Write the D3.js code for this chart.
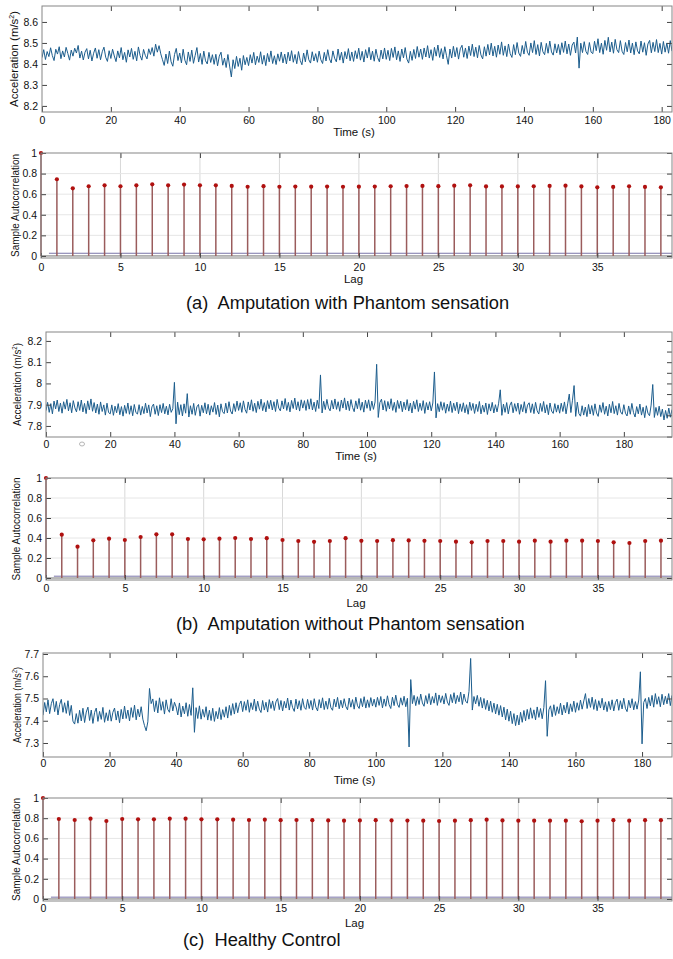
<!DOCTYPE html>
<html>
<head>
<meta charset="utf-8">
<script src="https://cdn.jsdelivr.net/npm/d3@7"></script>
<style>
body { margin: 0; background: #fff; }
svg { display: block; font-family: "Liberation Sans", Arial, sans-serif; }
.tick text { font-size: 10.5px; fill: #111; }
.tick line { stroke: #444; }
</style>
</head>
<body>
<script>
// acceleration samples, one every half second
const sampleStep = 0.5;

const accelA = [
8.430,8.468,8.421,8.459,8.435,8.477,8.440,8.416,8.470,8.447,8.482,8.425,8.462,8.433,8.479,8.450,8.418,8.466,8.437,8.475,
8.452,8.488,8.428,8.461,8.419,8.456,8.473,8.424,8.465,8.414,8.451,8.476,8.427,8.468,8.420,8.458,8.480,8.432,8.412,8.463,
8.426,8.470,8.438,8.411,8.462,8.429,8.478,8.420,8.455,8.408,8.467,8.433,8.474,8.422,8.460,8.415,8.481,8.440,8.418,8.469,
8.441,8.424,8.472,8.445,8.478,8.437,8.494,8.456,8.487,8.448,8.420,8.393,8.447,8.402,8.461,8.410,8.389,8.445,8.474,8.416,
8.452,8.405,8.470,8.418,8.396,8.457,8.412,8.466,8.403,8.441,8.478,8.409,8.450,8.398,8.461,8.415,8.400,8.455,8.407,8.444,
8.398,8.446,8.391,8.437,8.456,8.394,8.428,8.383,8.445,8.390,8.338,8.420,8.378,8.436,8.388,8.427,8.370,8.440,8.396,8.431,
8.392,8.444,8.404,8.455,8.396,8.437,8.407,8.458,8.399,8.441,8.392,8.450,8.410,8.462,8.402,8.439,8.397,8.448,8.413,8.457,
8.405,8.447,8.400,8.456,8.414,8.463,8.408,8.445,8.401,8.459,8.417,8.396,8.452,8.410,8.467,8.420,8.404,8.458,8.414,8.449,
8.408,8.461,8.420,8.402,8.455,8.414,8.468,8.424,8.405,8.462,8.427,8.410,8.471,8.418,8.456,8.404,8.459,8.424,8.473,8.415,
8.457,8.412,8.463,8.425,8.475,8.418,8.460,8.409,8.468,8.428,8.479,8.420,8.461,8.413,8.470,8.430,8.410,8.466,8.424,8.476,
8.422,8.465,8.416,8.474,8.431,8.481,8.420,8.462,8.412,8.471,8.429,8.478,8.423,8.404,8.460,8.417,8.469,8.426,8.483,8.432,
8.471,8.422,8.476,8.433,8.487,8.428,8.468,8.417,8.479,8.437,8.490,8.431,8.473,8.424,8.482,8.439,8.398,8.471,8.428,8.484,
8.434,8.478,8.423,8.472,8.489,8.432,8.476,8.426,8.485,8.440,8.494,8.435,8.480,8.429,8.488,8.443,8.424,8.482,8.437,8.493,
8.443,8.499,8.438,8.484,8.432,8.490,8.446,8.505,8.441,8.486,8.435,8.495,8.449,8.431,8.492,8.444,8.502,8.452,8.436,8.488,
8.447,8.507,8.456,8.441,8.500,8.454,8.511,8.445,8.492,8.438,8.503,8.458,8.444,8.498,8.451,8.509,8.457,8.442,8.496,8.452,
8.493,8.444,8.501,8.455,8.509,8.448,8.495,8.441,8.490,8.504,8.452,8.528,8.380,8.499,8.454,8.506,8.460,8.445,8.502,8.456,
8.449,8.508,8.463,8.520,8.454,8.499,8.446,8.512,8.465,8.527,8.457,8.504,8.451,8.517,8.468,8.454,8.511,8.460,8.445,8.502,
8.458,8.514,8.452,8.499,8.444,8.505,8.462,8.448,8.509,8.456,8.501,8.441,8.495,8.512,8.453,8.503,8.459,8.516,8.454,8.498,
8.447,8.507,8.456,8.500,8.451,8.511,8.461
];

const accelB = [
7.872,7.911,7.864,7.905,7.857,7.917,7.880,7.922,7.868,7.908,7.860,7.914,7.879,7.925,7.871,7.909,7.862,7.919,7.885,7.866,
7.914,7.873,7.922,7.866,7.906,7.858,7.918,7.876,7.927,7.869,7.910,7.861,7.903,7.855,7.913,7.868,7.899,7.851,7.907,7.863,
7.857,7.899,7.850,7.893,7.862,7.905,7.853,7.891,7.846,7.897,7.859,7.908,7.855,7.895,7.848,7.901,7.863,7.856,7.900,7.851,
7.892,7.858,7.907,7.861,7.899,7.844,7.890,7.903,7.855,7.895,7.849,7.900,7.863,7.906,7.857,7.893,7.852,7.902,7.864,7.881,
8.005,7.810,7.912,7.853,7.900,7.847,7.904,7.860,7.952,7.842,7.895,7.855,7.906,7.850,7.890,7.901,7.846,7.897,7.862,7.909,
7.857,7.902,7.851,7.895,7.865,7.910,7.854,7.898,7.843,7.904,7.867,7.858,7.907,7.861,7.914,7.870,7.856,7.905,7.868,7.917,
7.873,7.909,7.864,7.918,7.878,7.860,7.913,7.875,7.923,7.869,7.907,7.863,7.916,7.879,7.926,7.872,7.910,7.866,7.919,7.881,
7.921,7.875,7.914,7.868,7.925,7.884,7.871,7.918,7.880,7.929,7.873,7.911,7.866,7.920,7.882,7.931,7.876,7.914,7.870,7.923,
7.884,7.919,7.873,7.924,7.879,7.928,7.875,7.912,7.868,7.921,7.882,8.040,7.861,7.916,7.877,7.925,7.885,7.871,7.920,7.880,
7.927,7.878,7.914,7.869,7.922,7.884,7.932,7.876,7.917,7.872,7.924,7.887,7.867,7.918,7.881,7.929,7.874,7.912,7.865,7.921,
7.883,7.923,7.872,7.917,7.878,7.913,8.090,7.840,7.910,7.926,7.875,7.919,7.869,7.915,7.880,7.928,7.873,7.911,7.864,7.920,
7.882,7.917,7.867,7.912,7.876,7.924,7.870,7.908,7.861,7.916,7.879,7.923,7.868,7.907,7.873,7.919,7.859,7.910,7.875,7.914,
7.871,7.908,8.054,7.838,7.905,7.867,7.914,7.874,7.910,7.860,7.903,7.869,7.917,7.863,7.907,7.872,7.912,7.858,7.904,7.868,
7.909,7.862,7.900,7.855,7.912,7.873,7.906,7.859,7.902,7.868,7.915,7.857,7.898,7.865,7.908,7.854,7.904,7.870,7.911,7.861,
7.900,7.866,7.907,7.970,7.850,7.903,7.864,7.910,7.857,7.897,7.913,7.862,7.905,7.869,7.908,7.855,7.901,7.867,7.914,7.860,
7.898,7.909,7.863,7.904,7.858,7.911,7.871,7.856,7.906,7.868,7.915,7.861,7.900,7.853,7.908,7.870,7.859,7.905,7.865,7.899,
7.860,7.907,7.868,7.913,7.857,7.904,7.950,7.863,7.921,7.990,7.845,7.912,7.858,7.846,7.895,7.851,7.889,7.844,7.901,7.856,
7.896,7.850,7.904,7.861,7.845,7.899,7.864,7.910,7.855,7.893,7.847,7.902,7.862,7.915,7.858,7.895,7.851,7.906,7.866,7.855,
7.900,7.860,7.847,7.894,7.855,7.906,7.863,7.842,7.891,7.857,7.903,7.851,7.888,7.839,7.895,7.860,7.848,7.898,7.995,7.840,
7.887,7.850,7.893,7.844,7.879,7.828,7.873,7.836,7.884,7.841,7.877
];

const accelC = [
7.425,7.482,7.440,7.494,7.432,7.477,7.499,7.441,7.487,7.426,7.473,7.496,7.438,7.481,7.433,7.490,7.424,7.469,7.398,7.385,
7.432,7.389,7.447,7.399,7.456,7.392,7.439,7.461,7.401,7.448,7.388,7.437,7.457,7.397,7.442,7.406,7.460,7.393,7.436,7.400,
7.449,7.398,7.438,7.457,7.403,7.444,7.391,7.451,7.408,7.466,7.410,7.448,7.399,7.459,7.415,7.470,7.404,7.452,7.417,7.463,
7.407,7.378,7.355,7.395,7.545,7.477,7.498,7.441,7.490,7.435,7.503,7.447,7.486,7.430,7.494,7.451,7.438,7.499,7.444,7.483,
7.462,7.426,7.480,7.417,7.466,7.431,7.481,7.420,7.473,7.424,7.548,7.348,7.459,7.410,7.467,7.407,7.451,7.416,7.463,7.403,
7.447,7.401,7.456,7.397,7.442,7.409,7.459,7.405,7.450,7.416,7.463,7.412,7.469,7.424,7.477,7.430,7.481,7.436,7.473,7.489,
7.441,7.486,7.447,7.494,7.438,7.481,7.450,7.497,7.443,7.488,7.452,7.437,7.491,7.448,7.483,7.439,7.495,7.455,7.489,7.446,
7.485,7.500,7.450,7.491,7.444,7.487,7.457,7.502,7.448,7.493,7.459,7.442,7.497,7.453,7.490,7.447,7.499,7.460,7.451,7.496,
7.455,7.491,7.448,7.499,7.461,7.444,7.495,7.457,7.503,7.450,7.488,7.452,7.501,7.459,7.447,7.497,7.462,7.505,7.454,7.492,
7.458,7.499,7.464,7.449,7.502,7.461,7.495,7.452,7.506,7.467,7.455,7.500,7.463,7.508,7.457,7.494,7.460,7.504,7.466,7.497,
7.461,7.505,7.469,7.509,7.458,7.498,7.465,7.512,7.472,7.455,7.506,7.468,7.515,7.474,7.460,7.503,7.470,7.510,7.463,7.501,
7.282,7.585,7.477,7.514,7.468,7.508,7.473,7.520,7.480,7.465,7.513,7.477,7.522,7.472,7.509,7.479,7.525,7.469,7.516,7.482,
7.512,7.475,7.523,7.484,7.469,7.518,7.481,7.526,7.477,7.514,7.485,7.529,7.473,7.520,7.488,7.479,7.532,7.680,7.448,7.509,
7.476,7.514,7.465,7.505,7.457,7.500,7.451,7.492,7.444,7.488,7.438,7.479,7.431,7.474,7.425,7.468,7.417,7.461,7.404,7.452,
7.398,7.443,7.387,7.432,7.378,7.425,7.381,7.438,7.393,7.446,7.400,7.451,7.407,7.458,7.411,7.449,7.404,7.462,7.415,7.455,
7.409,7.460,7.580,7.330,7.449,7.467,7.418,7.472,7.424,7.463,7.432,7.479,7.426,7.470,7.435,7.483,7.430,7.476,7.441,7.488,
7.438,7.481,7.447,7.493,7.452,7.489,7.522,7.455,7.500,7.460,7.506,7.451,7.495,7.445,7.490,7.457,7.501,7.448,7.485,7.441,
7.487,7.450,7.494,7.444,7.482,7.497,7.447,7.490,7.453,7.501,7.456,7.441,7.492,7.458,7.499,7.449,7.486,7.452,7.493,7.620,
7.296,7.482,7.500,7.455,7.505,7.467,7.514,7.461,7.522,7.474,7.508,7.463,7.519,7.472,7.510,7.476,7.522,7.468,7.513,7.479,7.517
];

// sample autocorrelation, lags 0..39
const acfA = [1,0.745,0.657,0.677,0.686,0.677,0.686,0.696,0.686,0.693,0.686,0.686,0.680,0.672,0.678,0.672,0.674,0.673,0.674,0.672,
  0.673,0.674,0.677,0.679,0.680,0.678,0.683,0.686,0.675,0.675,0.675,0.677,0.680,0.683,0.675,0.667,0.670,0.677,0.670,0.667];
const acfB = [1,0.433,0.313,0.377,0.393,0.380,0.410,0.437,0.437,0.390,0.387,0.393,0.400,0.390,0.398,0.380,0.370,0.362,0.370,0.398,
  0.372,0.370,0.378,0.376,0.372,0.370,0.363,0.357,0.370,0.370,0.363,0.373,0.363,0.373,0.373,0.370,0.357,0.350,0.370,0.373];
const acfC = [1,0.792,0.782,0.795,0.772,0.792,0.789,0.789,0.795,0.795,0.789,0.789,0.785,0.782,0.785,0.780,0.782,0.780,0.778,0.775,
  0.778,0.780,0.778,0.776,0.775,0.772,0.775,0.780,0.785,0.778,0.775,0.775,0.775,0.775,0.770,0.775,0.780,0.775,0.780,0.780];
const confBounds = [0.026, 0.018, 0.018];

const timeTicks = [0,20,40,60,80,100,120,140,160,180];
const accelTicksA = [8.2,8.3,8.4,8.5,8.6];
const accelTicksB = [7.8,7.9,8,8.1,8.2];
const accelTicksC = [7.3,7.4,7.5,7.6,7.7];
const lagTicks = [0,5,10,15,20,25,30,35];
const acfTicks = [0,0.2,0.4,0.6,0.8,1];

const captions = ["(a)  Amputation with Phantom sensation",
                  "(b)  Amputation without Phantom sensation",
                  "(c)  Healthy Control"];

var svg = d3.select("body").append("svg")
   .attr("width",673)
   .attr("height",959);
svg.append("rect").attr("width",673).attr("height",959).attr("fill","#fff");

var fmt = d3.format("~g");
var clipId = 0;

function frame(g, x, y, box, xt, yt, yRight, pad){
    g.append("g").attr("transform","translate(0,"+box.b+")")
       .call(d3.axisBottom(x).tickValues(xt).tickSize(-5).tickPadding(pad).tickFormat(fmt));
    g.append("g").attr("transform","translate(0,"+box.t+")")
       .call(d3.axisTop(x).tickValues(xt.filter(v => v > 0)).tickSize(-5).tickFormat(""));
    g.append("g").attr("transform","translate("+box.l+",0)")
       .call(d3.axisLeft(y).tickValues(yt).tickSize(-5).tickPadding(4).tickFormat(fmt));
    g.append("g").attr("transform","translate("+box.r+",0)")
       .call(d3.axisRight(y).tickValues(yRight).tickSize(-5).tickFormat(""));
    g.selectAll(".domain").remove();
    g.append("rect")
       .attr("x",box.l).attr("y",box.t)
       .attr("width",box.r-box.l).attr("height",box.b-box.t)
       .attr("fill","none").attr("stroke","#858585");
}

function labels(g, box, o){
    g.append("text").text(o.xTitle)
       .attr("x",(box.l+box.r)/2 - 3).attr("y",o.xTitleY)
       .attr("text-anchor","middle").attr("font-size",11.5).attr("fill","#111");
    var t = g.append("text")
       .attr("transform","translate("+o.yTitleX+","+o.yTitleY+") rotate(-90)")
       .attr("text-anchor","middle").attr("font-size",11.5).attr("fill","#111")
       .attr("textLength",o.yTitleLen).attr("lengthAdjust","spacingAndGlyphs");
    if (o.sup) {
        t.append("tspan").text(o.yTitle);
        t.append("tspan").text("2").attr("font-size",7).attr("dy",-4);
        t.append("tspan").text(")").attr("dy",4);
    } else {
        t.text(o.yTitle);
    }
}

function timePlot(values, o){
    var box = o.box;
    var g = svg.append("g");
    var x = d3.scaleLinear().domain([0,o.tMax]).range([box.l,box.r]);
    var y = d3.scaleLinear().domain(o.yDomain).range([box.b,box.t]);
    var id = "clip" + (clipId++);
    g.append("clipPath").attr("id",id).append("rect")
       .attr("x",box.l).attr("y",box.t).attr("width",box.r-box.l).attr("height",box.b-box.t);

    var line = d3.line()
       .x(function(d,i){ return x(i*sampleStep); })
       .y(function(d){ return y(d); });
    g.append("path").datum(values)
       .attr("clip-path","url(#"+id+")")
       .attr("d",line)
       .attr("fill","none")
       .attr("stroke","#1c5d8d")
       .attr("stroke-width",1);

    frame(g, x, y, box, timeTicks, o.yTicks, o.rightTicks, o.pad);
    labels(g, box, {xTitle:"Time (s)", xTitleY:o.xTitleY, yTitle:"Acceleration (m/s",
        sup:true, yTitleX:o.yTitleX, yTitleY:(box.t+box.b)/2, yTitleLen:o.yTitleLen});
}

function acfPlot(values, conf, o){
    var box = o.box;
    var g = svg.append("g");
    var lagMax = 39.7;
    var x = d3.scaleLinear().domain([0,lagMax]).range([box.l,box.r]);
    var y = d3.scaleLinear().domain([-0.02,1]).range([box.b,box.t]);

    // grid
    g.append("g").selectAll("line").data(lagTicks.filter(v => v > 0)).enter()
       .append("line")
       .attr("x1",d => x(d)).attr("x2",d => x(d))
       .attr("y1",box.t).attr("y2",box.b)
       .attr("stroke","#d8d8d8");
    g.append("g").selectAll("line").data(acfTicks.filter(v => v > 0 && v < 1)).enter()
       .append("line")
       .attr("x1",box.l).attr("x2",box.r)
       .attr("y1",d => y(d)).attr("y2",d => y(d))
       .attr("stroke","#e6e6e6");

    // zero line and confidence bound
    g.append("line").attr("x1",box.l).attr("x2",box.r)
       .attr("y1",y(0)).attr("y2",y(0)).attr("stroke","#707070");
    g.append("line").attr("x1",x(0.5)).attr("x2",box.r)
       .attr("y1",y(conf)).attr("y2",y(conf)).attr("stroke","#7a74a8");

    g.selectAll(".stem").data(values).enter()
       .append("line").attr("class","stem")
       .attr("x1",(d,i) => x(i)).attr("x2",(d,i) => x(i))
       .attr("y1",y(0)).attr("y2",d => y(d))
       .attr("stroke","#9a5c5c").attr("stroke-width",1.5);
    g.selectAll(".dot").data(values).enter()
       .append("circle").attr("class","dot")
       .attr("cx",(d,i) => x(i)).attr("cy",d => y(d))
       .attr("r",2.1).attr("fill","#b0100f");

    frame(g, x, y, box, lagTicks, acfTicks, acfTicks, o.pad);
    labels(g, box, {xTitle:"Lag", xTitleY:o.xTitleY, yTitle:"Sample Autocorrelation",
        sup:false, yTitleX:o.yTitleX, yTitleY:(box.t+box.b)/2, yTitleLen:103});
}

// (a)
timePlot(accelA, {box:{l:42,r:672,t:6,b:112}, tMax:183, yDomain:[8.171,8.676],
    yTicks:accelTicksA, rightTicks:accelTicksA, pad:4.5, xTitleY:136, yTitleX:18, yTitleLen:96});
acfPlot(acfA, confBounds[0], {box:{l:41,r:672,t:153,b:258}, pad:5.5, xTitleY:283, yTitleX:19});

// (b)
timePlot(accelB, {box:{l:46,r:672,t:332,b:437}, tMax:195, yDomain:[7.748,8.242],
    yTicks:accelTicksB, rightTicks:d3.range(7.75,8.25,0.05), pad:4, xTitleY:460, yTitleX:21, yTitleLen:83});
acfPlot(acfB, confBounds[1], {box:{l:46,r:672,t:478,b:580}, pad:5, xTitleY:607, yTitleX:20});

// (c)
timePlot(accelC, {box:{l:43,r:672,t:653,b:757}, tMax:189, yDomain:[7.237,7.7045],
    yTicks:accelTicksC, rightTicks:accelTicksC, pad:3, xTitleY:784, yTitleX:21, yTitleLen:76});
acfPlot(acfC, confBounds[2], {box:{l:43,r:672,t:798,b:901}, pad:4, xTitleY:927, yTitleX:20});

// stray mark in the scanned figure
svg.append("ellipse").attr("cx",82).attr("cy",444).attr("rx",2.5).attr("ry",2)
   .attr("fill","none").attr("stroke","#b5b5b5");

// captions
var capPos = [[186,309],[176,630],[183,946]];
svg.selectAll(".caption").data(captions).enter()
   .append("text").attr("class","caption")
   .text(d => d)
   .attr("x",(d,i) => capPos[i][0]).attr("y",(d,i) => capPos[i][1])
   .attr("font-size",18.3).attr("fill","#111")
   .style("white-space","pre");
</script>
</body>
</html>
